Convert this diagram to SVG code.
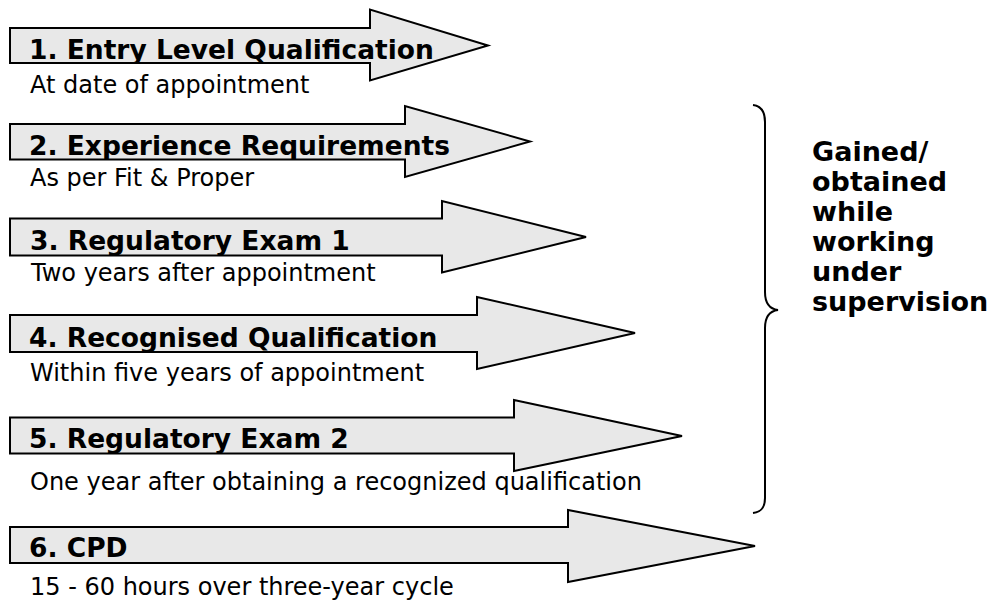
<svg xmlns="http://www.w3.org/2000/svg" width="1008" height="601" viewBox="0 0 1008 601">
  <style>
    .arrow { fill: #e8e8e8; stroke: #000; stroke-width: 2; stroke-linejoin: miter; }
    .label { font-family: "DejaVu Sans", Verdana, sans-serif; font-weight: bold; font-size: 26.5px; fill: #000; }
    .note { font-family: "DejaVu Sans", Verdana, sans-serif; font-size: 24px; fill: #000; }
    .side { font-family: "DejaVu Sans", Verdana, sans-serif; font-weight: bold; font-size: 27px; fill: #000; }
    .brace { fill: none; stroke: #000; stroke-width: 2; }
  </style>
  <defs>
    <!-- shaft bands: labels are cut off at the bottom edge of each shaft -->
    <clipPath id="clip1"><rect x="10" y="28" width="480" height="35"/></clipPath>
    <clipPath id="clip2"><rect x="10" y="124" width="520" height="35.5"/></clipPath>
    <clipPath id="clip3"><rect x="10" y="218.5" width="570" height="37"/></clipPath>
    <clipPath id="clip4"><rect x="10" y="315" width="620" height="37"/></clipPath>
    <clipPath id="clip5"><rect x="10" y="417.5" width="670" height="36"/></clipPath>
    <clipPath id="clip6"><rect x="10" y="527" width="740" height="36"/></clipPath>
  </defs>

  <rect width="1008" height="601" fill="#fff"/>

  <g id="step1">
    <polygon class="arrow" points="10,28 370,28 370,9.5 488,45.5 370,80.5 370,63 10,63"/>
    <text class="label" x="29" y="58.5" clip-path="url(#clip1)">1. Entry Level Qualification</text>
    <text class="note" x="30" y="93">At date of appointment</text>
  </g>

  <g id="step2">
    <polygon class="arrow" points="10,124 405,124 405,106 530,141.5 405,177 405,159.5 10,159.5"/>
    <text class="label" x="29" y="154.5" clip-path="url(#clip2)">2. Experience Requirements</text>
    <text class="note" x="30" y="186">As per Fit &amp; Proper</text>
  </g>

  <g id="step3">
    <polygon class="arrow" points="10,218.5 442,218.5 442,201 586,237 442,272.5 442,255.5 10,255.5"/>
    <text class="label" x="30" y="249.5" clip-path="url(#clip3)">3. Regulatory Exam 1</text>
    <text class="note" x="31" y="281">Two years after appointment</text>
  </g>

  <g id="step4">
    <polygon class="arrow" points="10,315 477,315 477,297 635,333 477,369 477,352 10,352"/>
    <text class="label" x="29" y="346.5" clip-path="url(#clip4)">4. Recognised Qualification</text>
    <text class="note" x="30" y="381">Within five years of appointment</text>
  </g>

  <g id="step5">
    <polygon class="arrow" points="10,417.5 514,417.5 514,400 682,436 514,471 514,453.5 10,453.5"/>
    <text class="label" x="29" y="447.5" clip-path="url(#clip5)">5. Regulatory Exam 2</text>
    <text class="note" x="30" y="490">One year after obtaining a recognized qualification</text>
  </g>

  <g id="step6">
    <polygon class="arrow" points="10,527 568,527 568,510 755,546 568,582 568,563 10,563"/>
    <text class="label" x="29" y="556.5" clip-path="url(#clip6)">6. CPD</text>
    <text class="note" x="30" y="595">15 - 60 hours over three-year cycle</text>
  </g>

  <g id="connectors">
    <path id="brace" class="brace" d="M753,105 C761,106 765,112 765,122 L765,292 C765,303 770,309 778,310 C770,311 765,317 765,328 L765,498 C765,508 761,512 753,513"/>
  </g>

  <g id="supervision-note">
    <text class="side" x="812" y="161">Gained/</text>
    <text class="side" x="812" y="191">obtained</text>
    <text class="side" x="812" y="221">while</text>
    <text class="side" x="812" y="251">working</text>
    <text class="side" x="812" y="281">under</text>
    <text class="side" x="812" y="311">supervision</text>
  </g>
</svg>
